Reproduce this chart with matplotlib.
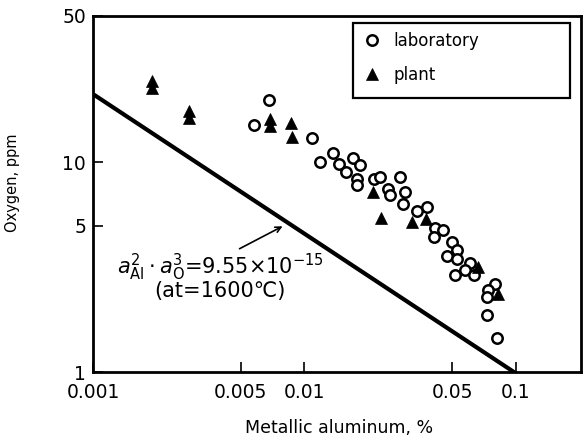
import matplotlib
matplotlib.use("Agg")
import matplotlib.pyplot as plt
from matplotlib.ticker import FixedLocator, FixedFormatter, NullLocator
from matplotlib.patches import Rectangle

# --- data ---
lab_al = [0.00680, 0.00579, 0.01081, 0.01184, 0.01368, 0.01456, 0.01571, 0.01687,
          0.01840, 0.01777, 0.01770, 0.02131, 0.02275, 0.02828, 0.02489, 0.02536,
          0.03001, 0.02931, 0.03392, 0.03795, 0.04140, 0.04500, 0.04095, 0.04966,
          0.05279, 0.04701, 0.05244, 0.06061, 0.05741, 0.05147, 0.06330, 0.07956,
          0.07396, 0.07269, 0.07317, 0.08157]
lab_o = [19.9, 15.1, 13.05, 10.1, 11.14, 9.83, 9.04, 10.56,
         9.70, 8.34, 7.81, 8.31, 8.57, 8.53, 7.47, 6.96,
         7.23, 6.37, 5.87, 6.11, 4.84, 4.76, 4.40, 4.19,
         3.82, 3.58, 3.45, 3.32, 3.07, 2.90, 2.90, 2.63,
         2.46, 2.27, 1.87, 1.46]

plant_al = [0.00191, 0.00191, 0.00285, 0.00285, 0.00687, 0.00687, 0.00864, 0.00870,
            0.02115, 0.02300, 0.03224, 0.03766, 0.06633, 0.08246]
plant_o = [24.5, 22.6, 17.7, 16.3, 16.1, 14.9, 15.4, 13.2,
           7.19, 5.45, 5.22, 5.35, 3.18, 2.36]

# equilibrium line endpoints (a_Al^2 * a_O^3 = 9.55e-15 at 1600 C)
eq_al = [0.001, 0.1]
eq_o = [21.2, 0.985]

x_ticks = [0.001, 0.005, 0.01, 0.05, 0.1]
x_tick_labels = ["0.001", "0.005", "0.01", "0.05", "0.1"]
y_ticks = [1, 5, 10, 50]
y_tick_labels = ["1", "5", "10", "50"]

fig = plt.figure(figsize=(5.84, 4.43), dpi=100)
ax = fig.add_axes([93/584, (443-372)/443, 488/584, 356/443])

ax.set_xscale("log")
ax.set_yscale("log")
ax.set_xlim(0.001, 0.203)
ax.set_ylim(1, 50)

ax.plot(eq_al, eq_o, color="black", lw=3, solid_capstyle="butt", zorder=2)

ax.plot(lab_al, lab_o, linestyle="none", marker="o", markersize=7.5,
        markerfacecolor="white", markeredgecolor="black", markeredgewidth=1.8,
        label="laboratory", zorder=3)
ax.plot(plant_al, plant_o, linestyle="none", marker="^", markersize=8.5,
        markerfacecolor="black", markeredgecolor="black", markeredgewidth=0.5,
        label="plant", zorder=4)

ax.xaxis.set_major_locator(FixedLocator(x_ticks))
ax.xaxis.set_major_formatter(FixedFormatter(x_tick_labels))
ax.xaxis.set_minor_locator(NullLocator())
ax.yaxis.set_major_locator(FixedLocator(y_ticks))
ax.yaxis.set_major_formatter(FixedFormatter(y_tick_labels))
ax.yaxis.set_minor_locator(NullLocator())

ax.tick_params(axis="both", direction="in", length=7, width=1.2,
               labelsize=13.5, top=False, right=False)
ax.tick_params(axis="x", pad=8)
ax.tick_params(axis="y", pad=5)

for sp in ax.spines.values():
    sp.set_linewidth(2)
    sp.set_color("black")

ax.set_xlabel("Metallic aluminum, %", fontsize=12.5)
ax.xaxis.set_label_coords((339-93)/488, (372-419)/356)
ax.set_ylabel("Oxygen, ppm", fontsize=10.5)
ax.yaxis.set_label_coords((20-93)/488, (372-183)/356)

# legend frame (drawn separately to match the reference box)
ax.add_patch(Rectangle(((353-93)/488, (372-98)/356), (570-353)/488, (98-23)/356,
                       transform=ax.transAxes, facecolor="white", edgecolor="black",
                       linewidth=1.6, zorder=5))
leg = ax.legend(loc="upper left", bbox_to_anchor=((364-93)/488, (372-32)/356),
                fontsize=12, frameon=False, handletextpad=0.75, borderpad=0,
                labelspacing=0.95, handlelength=1.0, borderaxespad=0)
leg.set_zorder(6)

ax.annotate("", xy=(0.00809, 5.03), xytext=(0.0048, 3.82),
            arrowprops=dict(arrowstyle="->", color="black", lw=1.2))
ax.text(0.262, 0.295,
        r"$a_{\mathrm{Al}}^{2}\cdot a_{\mathrm{O}}^{3}$=9.55$\times$10$^{-15}$",
        transform=ax.transAxes, ha="center", va="center", fontsize=15)
ax.text(0.26, 0.228, "(at=1600℃)", transform=ax.transAxes,
        ha="center", va="center", fontsize=15)

fig.savefig("out.png", dpi=100, facecolor="white")
